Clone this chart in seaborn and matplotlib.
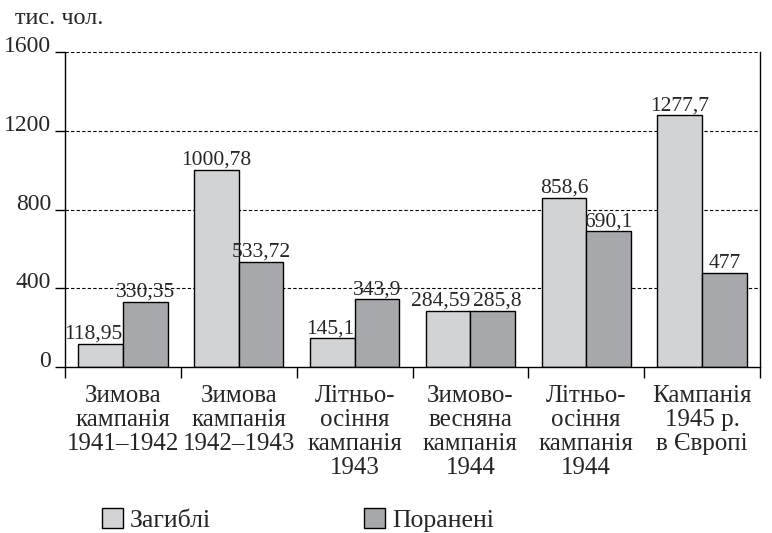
import matplotlib
matplotlib.use("Agg")
import matplotlib.pyplot as plt
import seaborn as sns
import pandas as pd
from matplotlib.patches import Patch

categories = ["Зимова\nкампанія\n1941–1942", "Зимова\nкампанія\n1942–1943",
              "Літньо-\nосіння\nкампанія\n1943", "Зимово-\nвесняна\nкампанія\n1944",
              "Літньо-\nосіння\nкампанія\n1944", "Кампанія\n1945 р.\nв Європі"]
killed = [118.95, 1000.78, 145.1, 284.59, 858.6, 1277.7]
wounded = [330.35, 533.72, 343.9, 285.8, 690.1, 477]
series = ["Загиблі", "Поранені"]
yticks = [0, 400, 800, 1200, 1600]
unit_label = "тис. чол."

sns.set_style("white")
plt.rcParams['font.family'] = ['Liberation Serif', 'DejaVu Serif']

df = pd.DataFrame({
    "cat": categories * 2,
    "val": killed + wounded,
    "series": [series[0]] * len(categories) + [series[1]] * len(categories),
})
palette = {series[0]: "#d2d3d5", series[1]: "#a7a8ab"}

fig = plt.figure(figsize=(7.72, 5.33), dpi=100)
ax = fig.add_axes([65 / 772, 1 - 367 / 533, (760 - 65) / 772, (367 - 52) / 533])

sns.barplot(data=df, x="cat", y="val", hue="series", hue_order=series,
            order=categories, palette=palette, width=0.77, edgecolor="black",
            linewidth=1, ax=ax, legend=False, saturation=1)

ax.set_xlim(-0.5, len(categories) - 0.5)
ax.set_ylim(0, 1600)
ax.set_xlabel("")
ax.set_ylabel("")
ax.set_axisbelow(True)

ax.set_yticks(yticks)
ax.set_yticklabels([str(t) for t in yticks], fontsize=17)
for lbl in ax.get_yticklabels():
    lbl.set_verticalalignment("baseline")
ax.tick_params(axis="y", direction="out", length=7, width=1, pad=3, color="black", left=True)
for t in yticks[1:]:
    ax.axhline(t, color="black", linestyle=(0, (3, 2)), linewidth=0.8, zorder=0)

ax.set_xticks(range(len(categories)))
ax.set_xticklabels(categories, fontsize=18, linespacing=1.12, va="top", ha="center")
ax.tick_params(axis="x", which="major", length=0, pad=13)
ax.set_xticks([i - 0.5 for i in range(len(categories) + 1)], minor=True)
ax.tick_params(axis="x", which="minor", direction="out", length=8, width=1, color="black", bottom=True)

for s in ["left", "bottom", "right"]:
    ax.spines[s].set_visible(True)
    ax.spines[s].set_color("black")
    ax.spines[s].set_linewidth(1)
ax.spines["top"].set_visible(False)

ann_sets = []
for cont, vals in zip(ax.containers, [killed, wounded]):
    anns = ax.bar_label(cont, labels=[f"{v:g}".replace(".", ",") for v in vals],
                        padding=0, fontsize=15.5)
    ann_sets.append((cont, anns))

# keep the "killed" label clear of the neighbouring bar / label
fig.canvas.draw()
renderer = fig.canvas.get_renderer()
(cont_k, anns_k), (cont_w, anns_w) = ann_sets
px_per_pt = fig.dpi / 72.0
for i in range(len(categories)):
    bk = anns_k[i].get_window_extent(renderer)
    bw = anns_w[i].get_window_extent(renderer)
    bar_k = cont_k.patches[i].get_window_extent(renderer)
    bar_w = cont_w.patches[i].get_window_extent(renderer)
    collide = bk.x1 > bar_k.x1 - 2 and (wounded[i] > killed[i] or bk.overlaps(bw))
    if collide:
        shift = (bk.x1 - bar_k.x1) / px_per_pt
        anns_k[i].xyann = (-shift, 0)
        if bk.overlaps(bw) and bw.x0 < bar_w.x0 + 3:
            anns_w[i].xyann = ((bar_w.x0 + 3 - bw.x0) / px_per_pt, 0)

fig.text(15 / 772, 1 - 19 / 533, unit_label, fontsize=17.5, va="center", ha="left")

handles = [Patch(facecolor=palette[s], edgecolor="black", linewidth=1) for s in series]
fig.legend(handles, series, loc="lower left", bbox_to_anchor=(102 / 772, 0.002),
           ncol=2, frameon=False, fontsize=18.5, handlelength=0.82, handleheight=0.82,
           handletextpad=0.27, columnspacing=5.95, borderaxespad=0, borderpad=0)

fig.savefig("out.png", dpi=100)
